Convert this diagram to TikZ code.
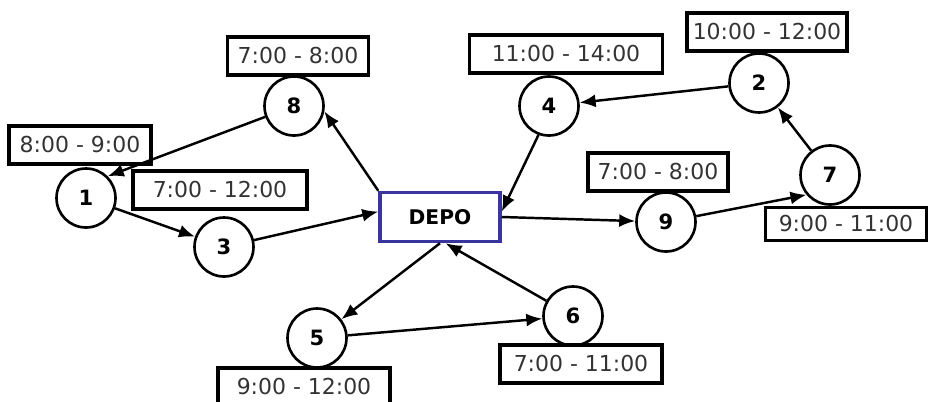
\documentclass[tikz,border=0pt]{standalone}
\usepackage{fontspec}
\setmainfont{DejaVu Sans}
\usepackage{tikz}
\usetikzlibrary{arrows.meta}
\definecolor{depoblue}{RGB}{58,52,158}

\begin{document}
\begin{tikzpicture}[x = 0.02cm, y = -0.02cm,
		stop/.style = {draw, circle, line width = 1.5pt, minimum size = 1.18cm, inner sep = 0pt, font = \fontsize{12}{14}\selectfont\bfseries},
		slot/.style = {draw, rectangle, line width = 1.8pt, minimum height = 0.76cm, inner xsep = 2pt, font = \fontsize{12.5}{14}\selectfont, text = black!80},
		route/.style = {-{Latex[length = 3.2mm, width = 2.6mm]}, line width = 1.4pt}]
			\useasboundingbox (0, 0) rectangle (929, 402);
			% depot
			\node[draw = depoblue, line width = 2pt, minimum width = 2.4cm, minimum height = 0.98cm, font = \fontsize{11.5}{13}\selectfont\bfseries] (depo) at (440, 217) {DEPO};
			% customers
			\node[stop] (n1) at (86, 198) {1};
			\node[stop] (n2) at (759, 83) {2};
			\node[stop] (n3) at (224, 247) {3};
			\node[stop] (n4) at (549, 106) {4};
			\node[stop] (n5) at (317, 338) {5};
			\node[stop] (n6) at (573, 316) {6};
			\node[stop] (n7) at (830, 175) {7};
			\node[stop] (n8) at (294, 106) {8};
			\node[stop] (n9) at (666, 222) {9};
			% time windows
			\node[slot, minimum width = 2.84cm] (t1) at (80, 145) {8:00 - 9:00};
			\node[slot, minimum width = 3.2cm] (t2) at (767, 32) {10:00 - 12:00};
			\node[slot, minimum width = 3.48cm] (t3) at (220, 190) {7:00 - 12:00};
			\node[slot, minimum width = 3.86cm] (t4) at (566, 54) {11:00 - 14:00};
			\node[slot, minimum width = 3.44cm] (t5) at (304, 387) {9:00 - 12:00};
			\node[slot, minimum width = 3.24cm] (t6) at (581, 364) {7:00 - 11:00};
			\node[slot, minimum width = 3.22cm, minimum height = 0.66cm] (t7) at (846, 224) {9:00 - 11:00};
			\node[slot, minimum width = 2.82cm] (t8) at (298, 56) {7:00 - 8:00};
			\node[slot, minimum width = 2.8cm] (t9) at (658, 172) {7:00 - 8:00};
			% routes
			\draw[route] (depo.north west) -- (n8.-10);
			\draw[route] (n8) -- (n1.45);
			\draw[route] (n1) -- (n3);
			\draw[route] (n3) -- (depo.175);
			\draw[route] (depo.east) -- (n9);
			\draw[route] (n9) -- (n7.220);
			\draw[route] (n7) -- (n2);
			\draw[route] (n2) -- (n4);
			\draw[route] (n4.250) -- (depo.5);
			\draw[route] (depo.south) -- (n5);
			\draw[route] (n5) -- (n6);
			\draw[route] (n6) -- (depo.-78);
		\end{tikzpicture}
\end{document}
